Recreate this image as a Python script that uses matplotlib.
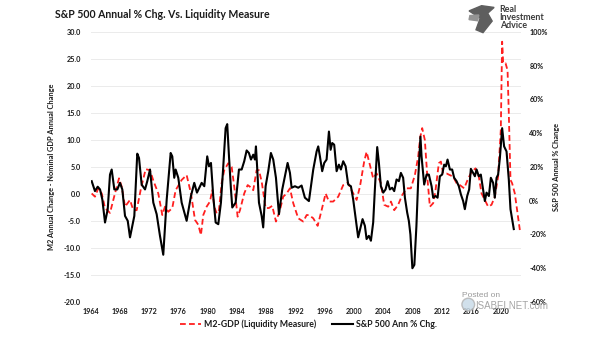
import matplotlib
matplotlib.use("Agg")
import matplotlib.pyplot as plt
from matplotlib.patches import Polygon, Ellipse

plt.rcParams["font.family"] = ["Lato", "DejaVu Sans"]

# M2-GDP (liquidity measure), left axis
m2_years = [1964.16, 1964.61, 1965.06, 1965.53, 1965.98, 1966.66, 1967.34, 1967.89,
            1968.26, 1968.71, 1969.39, 1969.84, 1970.30, 1970.89, 1971.53, 1972.12,
            1972.57, 1973.25, 1973.80, 1974.16, 1974.61, 1975.16, 1975.62, 1976.44,
            1977.12, 1977.71, 1978.26, 1978.71, 1979.07, 1979.39, 1979.85, 1980.30,
            1980.62, 1980.89, 1981.22, 1981.53, 1981.90, 1982.25, 1982.80, 1983.26,
            1983.62, 1984.08, 1984.40, 1984.98, 1985.45, 1985.76, 1986.21, 1986.67,
            1986.99, 1987.36, 1987.90, 1988.35, 1988.80, 1989.31, 1989.85, 1990.30,
            1990.77, 1991.22, 1991.67, 1992.35, 1993.03, 1993.50, 1993.81, 1994.40,
            1995.00, 1995.54, 1996.09, 1996.54, 1997.12, 1997.81, 1998.49, 1999.13,
            1999.63, 2000.32, 2000.77, 2001.35, 2001.68, 2002.13, 2002.58, 2003.05,
            2003.63, 2004.08, 2004.63, 2005.00, 2005.45, 2005.99, 2006.54, 2007.14,
            2007.72, 2008.27, 2008.72, 2009.00, 2009.27, 2009.63, 2010.00, 2010.32,
            2010.77, 2011.09, 2011.54, 2011.82, 2012.13, 2012.59, 2013.05, 2013.50,
            2013.96, 2014.41, 2015.00, 2015.46, 2016.01, 2016.55, 2017.00, 2017.37,
            2017.82, 2018.27, 2018.73, 2019.18, 2019.63, 2020.00, 2020.18, 2020.25,
            2020.32, 2020.65, 2020.92, 2021.09, 2021.32, 2021.54, 2021.91, 2022.23,
            2022.60]
m2_gdp = [0.1, -0.5, 1.05, 0.1, -2.6, -3.5, 0.1, 2.9,
          1.35, -2.35, -1.1, -3.0, -3.0, 1.05, 4.6, 4.4,
          2.5, 0.1, -3.9, -2.35, -3.3, -2.6, 0.7, 2.6,
          3.5, 0.1, -4.8, -5.7, -7.6, -3.9, -2.35, -1.4,
          0.7, -2.35, -3.6, -3.0, 2.0, 4.4, 5.7, 5.05,
          1.35, -4.2, -3.0, 0.1, 1.65, 1.35, 0.7, 4.4,
          4.4, 2.3, -2.6, -2.6, -2.2, -5.1, -3.0, -0.5,
          0.1, 1.05, -1.7, -4.5, -5.1, -3.9, -3.9, -4.5,
          -5.9, -3.0, 0.1, -1.4, -1.4, -0.5, 1.65, 2.1,
          0.7, -1.1, 1.35, 6.0, 7.8, 5.4, 2.9, 3.8,
          2.0, -2.0, -2.35, -1.4, -3.0, -2.0, -0.2, 1.05,
          1.05, 3.5, 6.9, 10.5, 12.2, 10.0, 2.6, -2.35,
          -1.7, 0.7, 5.7, 6.0, 3.8, 3.8, 3.5, 3.2,
          2.0, 1.65, 1.05, 2.6, 4.1, 4.75, 3.2, 0.1,
          -1.1, -2.35, -2.0, -0.5, 3.2, 11.9, 28.2, 26.5,
          24.2, 24.2, 22.9, 14.9, 2.6, 2.0, 0.1, -3.0,
          -6.7]

# S&P 500 annual % change, right axis
spx_years = [1964.16, 1964.61, 1964.98, 1965.30, 1965.61, 1965.98, 1966.35, 1966.66,
             1966.89, 1967.25, 1967.66, 1968.02, 1968.34, 1968.71, 1969.08, 1969.39,
             1969.98, 1970.38, 1970.62, 1970.98, 1971.44, 1971.75, 1972.12, 1972.57,
             1973.03, 1973.48, 1973.93, 1974.40, 1974.94, 1975.16, 1975.43, 1975.62,
             1975.98, 1976.44, 1977.12, 1977.71, 1978.16, 1978.53, 1979.17, 1979.53,
             1979.93, 1980.17, 1980.44, 1980.75, 1981.08, 1981.44, 1981.80, 1982.12,
             1982.44, 1982.66, 1982.90, 1983.17, 1983.35, 1983.81, 1984.26, 1984.63,
             1984.98, 1985.31, 1985.62, 1985.90, 1986.21, 1986.44, 1986.58, 1986.76,
             1986.99, 1987.36, 1987.57, 1987.90, 1988.26, 1988.62, 1988.94, 1989.31,
             1989.72, 1990.17, 1990.54, 1990.90, 1991.22, 1991.45, 1991.90, 1992.35,
             1992.81, 1993.26, 1993.81, 1994.40, 1994.86, 1995.08, 1995.31, 1995.62,
             1995.90, 1996.22, 1996.54, 1996.77, 1996.99, 1997.26, 1997.59, 1997.90,
             1998.17, 1998.49, 1998.82, 1999.17, 1999.54, 1999.85, 2000.18, 2000.53,
             2000.90, 2001.13, 2001.45, 2001.68, 2001.99, 2002.27, 2002.58, 2002.81,
             2003.13, 2003.36, 2003.63, 2003.95, 2004.27, 2004.55, 2004.86, 2005.17,
             2005.45, 2005.77, 2006.09, 2006.36, 2006.67, 2006.91, 2007.22, 2007.45,
             2007.66, 2007.93, 2008.20, 2008.48, 2008.75, 2009.03, 2009.18, 2009.54,
             2009.87, 2010.18, 2010.55, 2010.77, 2011.09, 2011.37, 2011.68, 2011.99,
             2012.27, 2012.50, 2012.73, 2013.05, 2013.36, 2013.63, 2013.96, 2014.27,
             2014.55, 2014.86, 2015.09, 2015.41, 2015.68, 2015.91, 2016.22, 2016.46,
             2016.69, 2017.00, 2017.27, 2017.51, 2017.82, 2018.05, 2018.37, 2018.64,
             2018.95, 2019.18, 2019.42, 2019.63, 2019.87, 2020.18, 2020.45, 2020.78,
             2021.09, 2021.32, 2021.77]
spx_chg = [11.6, 5.7, 8.3, 6.7, 0.8, -12.9, -5.0, 15.5,
           18.5, 6.7, 6.7, 10.6, 6.7, -9.0, -11.9, -21.7,
           -9.0, 27.9, 25.3, 9.6, 6.7, 11.6, 18.5, -1.1,
           -8.0, -20.8, -32.0, 0.8, 28.3, 26.3, 13.6, 18.5,
           13.6, -1.1, -11.9, 2.8, 10.6, 4.8, 10.6, 8.6,
           26.3, 20.4, 22.4, 2.8, -12.9, -13.9, -1.1, 20.4,
           43.0, 45.4, 26.3, 6.7, -4.0, -1.1, 18.5, 18.5,
           23.4, 29.8, 28.3, 24.4, 27.3, 24.4, 32.2, 18.5,
           -1.1, -9.0, -15.8, 8.6, 17.5, 28.3, 24.4, 13.6,
           -8.0, 6.7, 14.5, 22.4, 16.5, 7.7, 8.6, 7.7,
           9.0, 1.8, -0.2, 18.5, 29.2, 32.2, 26.3, 17.5,
           22.4, 24.4, 41.0, 30.2, 34.2, 33.2, 17.5, 21.4,
           18.5, 23.4, 20.4, 9.6, 8.6, 0.8, -9.9, -21.7,
           -14.9, -10.9, -14.9, -22.7, -20.8, -23.7, -12.9, 6.7,
           31.8, 22.4, 8.6, 4.8, 6.7, 11.6, 6.7, 7.7,
           5.7, 12.6, 11.6, 16.5, 13.6, 1.8, -7.0, -12.0,
           -20.0, -40.0, -38.0, -15.0, 15.0, 38.0, 26.3, 9.6,
           15.5, 15.5, 8.6, 1.8, 2.8, 1.8, 14.5, 15.5,
           21.4, 20.4, 24.4, 18.5, 18.5, 13.6, 11.6, 8.6,
           3.8, -0.2, -5.0, 2.8, 6.7, 18.9, 16.5, 14.5,
           18.5, 14.5, 15.5, 8.6, -0.2, 4.8, 2.8, 13.6,
           10.6, 1.8, 13.6, 15.5, 25.3, 43.0, 32.2, 29.2,
           12.6, -5.0, -16.8]

left_ticks = [-20, -15, -10, -5, 0, 5, 10, 15, 20, 25, 30]
right_ticks = [-60, -40, -20, 0, 20, 40, 60, 80, 100]
year_ticks = list(range(1964, 2021, 4))

RED = "#FF1F1F"
TXT = "#1a1a1a"

fig = plt.figure(figsize=(6.05, 3.41), dpi=100)
fig.patch.set_facecolor("white")
ax = fig.add_axes([0.1496, 0.1144, 0.7115, 0.7918])
ax2 = ax.twinx()

ax.plot(m2_years, m2_gdp, color=RED, lw=1.3, ls=(0, (3.2, 1.8)),
        label="M2-GDP (Liquidity Measure)")
ax2.plot(spx_years, spx_chg, color="black", lw=1.5,
         label="S&P 500 Ann % Chg.")

ax.set_xlim(1964.0, 2022.75)
ax.set_ylim(-20, 30)
ax2.set_ylim(-60, 100)
ax.set_yticks(left_ticks)
ax.set_yticklabels([f"{v:.1f}" for v in left_ticks])
ax2.set_yticks(right_ticks)
ax2.set_yticklabels([f"{v}%" for v in right_ticks])
ax.set_xticks(year_ticks)
ax.set_xticklabels([str(y) for y in year_ticks])

ax.grid(axis="y", color="#ebebeb", lw=0.7)
ax.set_axisbelow(True)
for a in (ax, ax2):
    for s in a.spines.values():
        s.set_visible(False)
    a.tick_params(length=0, labelsize=5.2, colors=TXT)
ax.tick_params(axis="y", pad=7)
ax2.tick_params(axis="y", pad=6)
ax.tick_params(axis="x", pad=4)
for lab in ax.get_xticklabels() + ax.get_yticklabels() + ax2.get_yticklabels():
    lab.set_fontweight("bold")

ax.set_ylabel("M2 Annual Change - Nominal GDP Annual Change", fontsize=5.3,
              fontweight="bold", color=TXT, labelpad=6)
ax2.set_ylabel("S&P 500 Annual % Change", fontsize=5.3, fontweight="bold",
               color=TXT, labelpad=4)

fig.text(0.091, 0.958, "S&P 500 Annual % Chg. Vs. Liquidity Measure",
         fontsize=7.6, fontweight="bold", color=TXT, va="center")

h1, l1 = ax.get_legend_handles_labels()
h2, l2 = ax2.get_legend_handles_labels()
leg = fig.legend(h1 + h2, l1 + l2, loc="center", ncol=2,
                 bbox_to_anchor=(0.51, 0.05), frameon=False,
                 prop={"size": 6.3, "weight": "bold"}, handlelength=2.3,
                 columnspacing=1.9, handletextpad=0.35)
for t in leg.get_texts():
    t.set_color(TXT)

# logo
logo = fig.add_axes([0.773, 0.9, 0.046, 0.085])
logo.set_xlim(0, 1)
logo.set_ylim(0, 1)
logo.axis("off")
logo.add_patch(Polygon([[0.05, 0.8], [0.5, 0.98], [0.95, 0.92], [0.72, 0.72],
                        [0.88, 0.45], [0.55, 0.05], [0.3, 0.15], [0.45, 0.55]],
                       closed=True, color="#5e5e5e"))
logo.add_patch(Polygon([[0.08, 0.64], [0.4, 0.66], [0.36, 0.46], [0.05, 0.5]],
                       closed=True, color="#949494"))
fig.text(0.826, 0.948, "Real\nInvestment\nAdvice", fontsize=6.4,
         fontweight="bold", color="#3c3c3c", va="center", ha="left",
         linespacing=0.82)

# watermark
fig.text(0.763, 0.128, "Posted on", fontsize=6.0, color="#9a9a9a",
         family="Liberation Sans")
fig.text(0.786, 0.093, "ISABELNET.com", fontsize=7.0, color="#a5a5a5",
         family="Liberation Sans")
fig.patches.append(Ellipse((0.774, 0.107), 0.021, 0.037,
                           transform=fig.transFigure, facecolor="#c9dbe8",
                           edgecolor="#b5b5b5", lw=1.0, alpha=0.85))

fig.savefig("out.png", dpi=100)
